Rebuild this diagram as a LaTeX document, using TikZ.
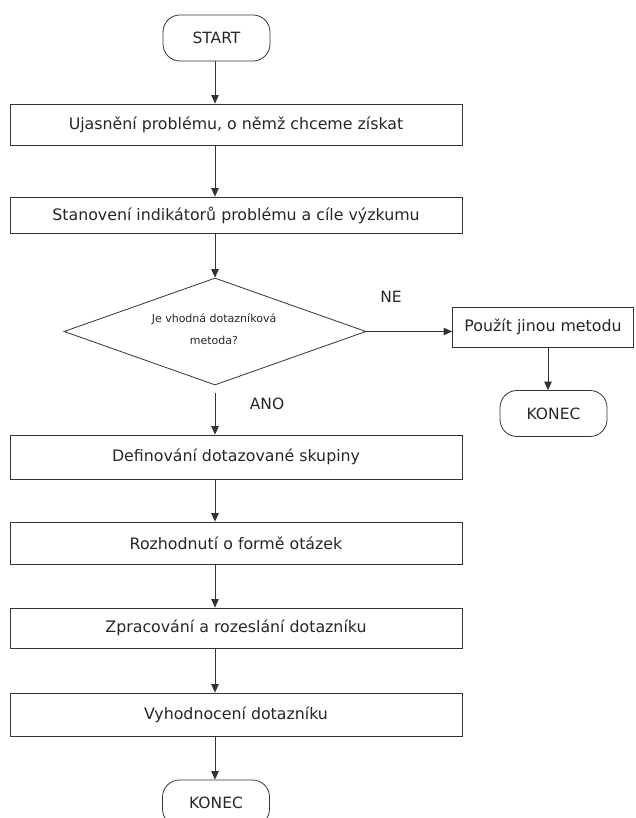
\documentclass[tikz,border=0pt]{standalone}
\usepackage{fontspec}
\setmainfont{DejaVu Sans}
\usetikzlibrary{shapes.geometric,arrows.meta}
\begin{document}
\begin{tikzpicture}[x=1pt,y=-1pt,
  every node/.style={text=black!85},
  box/.style={draw=black!80, line width=0.8pt, minimum width=452pt, inner sep=0pt, font=\fontsize{15.8}{18}\selectfont},
  term/.style={draw=black!80, line width=0.8pt, rounded corners=17pt, minimum width=107pt, minimum height=46pt, inner sep=0pt, font=\fontsize{15.5}{18}\selectfont},
  decision/.style={draw=black!80, line width=0.8pt, diamond, minimum width=302pt, minimum height=107pt, inner sep=0pt, align=center, font=\fontsize{11}{22}\selectfont},
  lbl/.style={font=\fontsize{15.5}{18}\selectfont, inner sep=0pt},
  arr/.style={draw=black!80, line width=0.8pt, -{Triangle[length=8.5pt,width=7.5pt]}}
]
\useasboundingbox (0,0) rectangle (635,818);

\node[term] (start) at (216.5,38) {START};
\node[box, minimum height=41pt] (b1) at (236,124.5) {Ujasnění problému, o němž chceme získat};
\node[box, minimum height=36pt] (b2) at (236,215) {Stanovení indikátorů problému a cíle výzkumu};
\node[decision] (dia) at (215,331.5) {};
\node[font=\fontsize{11}{22}\selectfont, align=center, inner sep=0pt] (diatext) at (214,329) {Je vhodná dotazníková\\metoda?};
\node[box, minimum width=181pt, minimum height=40pt] (use) at (543,327) {Použít jinou metodu};
\node[term] (konec1) at (553.5,413.5) {KONEC};
\node[box, minimum height=44pt] (b3) at (236,457) {Definování dotazované skupiny};
\node[box, minimum height=42pt] (b4) at (236,543) {Rozhodnutí o formě otázek};
\node[box, minimum height=40pt] (b5) at (236,628) {Zpracování a rozeslání dotazníku};
\node[box, minimum height=43pt] (b6) at (236,714.5) {Vyhodnocení dotazníku};
\node[term] (konec2) at (216,803) {KONEC};

\node[lbl] (ne) at (391,297) {NE};
\node[lbl] (ano) at (267,404) {ANO};

\coordinate (c0) at (215,61);
\coordinate (anostart) at (215,393);

\draw[arr] (c0) -- (c0 |- b1.north);
\draw[arr] (c0 |- b1.south) -- (c0 |- b2.north);
\draw[arr] (c0 |- b2.south) -- (dia.north);
\draw[arr] (dia.east) -- (use.west |- dia.east);
\draw[arr] ([xshift=5pt]use.south) -- ([xshift=5pt]use.south |- konec1.north);
\draw[arr] (anostart) -- (anostart |- b3.north);
\draw[arr] (c0 |- b3.south) -- (c0 |- b4.north);
\draw[arr] (c0 |- b4.south) -- (c0 |- b5.north);
\draw[arr] (c0 |- b5.south) -- (c0 |- b6.north);
\draw[arr] (c0 |- b6.south) -- (c0 |- konec2.north);
\end{tikzpicture}
\end{document}
